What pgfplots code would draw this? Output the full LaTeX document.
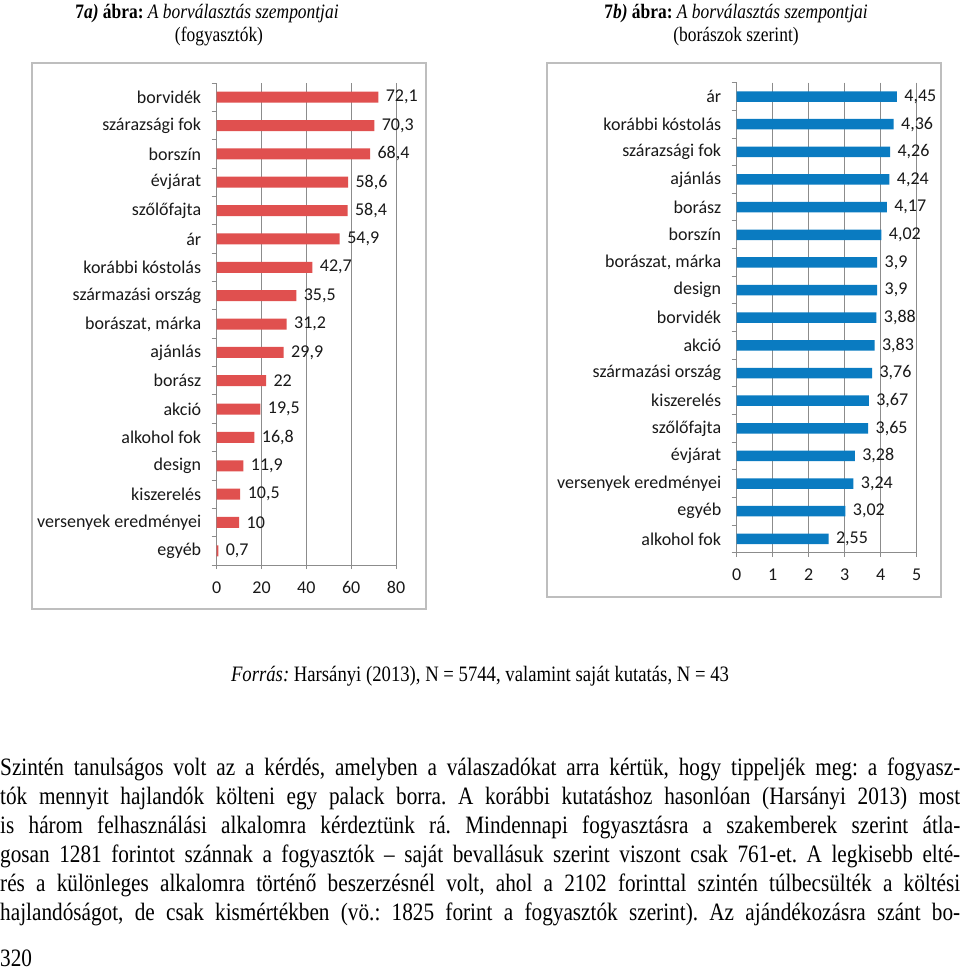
\documentclass[border=0pt]{standalone}
\usepackage{fontspec}
\setmainfont{Liberation Serif}[FakeStretch=0.85]
\newfontfamily\calfont{Carlito}
\usepackage{pgfplots}
\pgfplotsset{compat=1.18}
\definecolor{barred}{HTML}{E0504F}
\definecolor{barblue}{HTML}{0A7BC1}
\definecolor{axgray}{HTML}{8C8C8C}
\definecolor{framegray}{HTML}{BEBEBE}
\newcommand{\chfont}{\calfont\fontsize{18}{20}\selectfont}
\frenchspacing
\pgfplotsset{excelbar/.style={
  xbar, scale only axis, clip=false,
  y dir=reverse, ymin=-0.5, ymax=16.5, ytick={0,...,16},
  minor ytick={-0.5,0.5,...,16.5},
  major y tick style={draw=none},
  axis x line*=bottom, axis y line*=left,
  axis line style={axgray, line width=0.9pt},
  xmajorgrids, grid style={axgray, line width=0.9pt},
  tick align=outside, major tick length=4pt, minor tick length=5pt,
  tick style={axgray, line width=0.9pt},
  ticklabel style={font=\chfont, text=black!90},
  yticklabel style={xshift=-8pt},
  xticklabel style={yshift=-9pt},
  /pgf/number format/use comma,
  /pgf/number format/assume math mode=true,
  nodes near coords,
  nodes near coords style={font=\chfont, text=black!90, xshift=4pt},
}}
\begin{document}
\begin{tikzpicture}
\useasboundingbox (0,0) rectangle (960pt,-971pt);
\fill[white] (0,0) rectangle (960pt,-971pt);
% titles
\begin{scope}[every node/.style={anchor=base, inner sep=0, font=\fontsize{20.5}{22}\selectfont}]
\node at (207pt,-19pt) {\textbf{7\textit{a)} ábra:} \textit{A borválasztás szempontjai}};
\node at (219pt,-42pt) {(fogyasztók)};
\node at (736pt,-19pt) {\textbf{7\textit{b)} ábra:} \textit{A borválasztás szempontjai}};
\node at (736pt,-42pt) {(borászok szerint)};
\end{scope}
% frames
\draw[framegray, line width=1.2pt] (32pt,-63pt) rectangle (426pt,-609pt);
\draw[framegray, line width=1.2pt] (547pt,-63pt) rectangle (941pt,-597pt);
% left chart
\begin{axis}[excelbar, width=179.3pt, height=482pt, at={(306.35pt,-324pt)}, anchor=center,
  xmin=0, xmax=80, xtick={0,20,...,80}, bar width=11pt,
  yticklabels={borvidék,szárazsági fok,borszín,évjárat,szőlőfajta,ár,korábbi kóstolás,származási ország,{borászat, márka},ajánlás,borász,akció,alkohol fok,design,kiszerelés,versenyek eredményei,egyéb}]
\addplot[fill=barred, draw=none] coordinates {
(72.1,0) (70.3,1) (68.4,2) (58.6,3) (58.4,4) (54.9,5) (42.7,6) (35.5,7) (31.2,8)
(29.9,9) (22,10) (19.5,11) (16.8,12) (11.9,13) (10.5,14) (10,15) (0.7,16)};
\end{axis}
% right chart
\begin{axis}[excelbar, width=180pt, height=470pt, at={(826.7pt,-317.7pt)}, anchor=center,
  xmin=0, xmax=5, xtick={0,...,5}, bar width=10.5pt,
  yticklabels={ár,korábbi kóstolás,szárazsági fok,ajánlás,borász,borszín,{borászat, márka},design,borvidék,akció,származási ország,kiszerelés,szőlőfajta,évjárat,versenyek eredményei,egyéb,alkohol fok}]
\addplot[fill=barblue, draw=none] coordinates {
(4.45,0) (4.36,1) (4.26,2) (4.24,3) (4.17,4) (4.02,5) (3.9,6) (3.9,7) (3.88,8)
(3.83,9) (3.76,10) (3.67,11) (3.65,12) (3.28,13) (3.24,14) (3.02,15) (2.55,16)};
\end{axis}
% caption
\node[anchor=base, inner sep=0, font=\fontsize{22}{24}\selectfont] at (480pt,-681pt) {\textit{Forrás:} Harsányi (2013), N = 5744, valamint saját kutatás, N = 43};
% body text
\begin{scope}[every node/.style={anchor=base west, inner sep=0, font=\fontsize{25}{29}\selectfont}]
\node at (0,-775pt) {\makebox[960pt][s]{Szintén tanulságos volt az a kérdés, amelyben a válaszadókat arra kértük, hogy tippeljék meg: a fogyasz-}};
\node at (0,-804pt) {\makebox[960pt][s]{tók mennyit hajlandók költeni egy palack borra. A korábbi kutatáshoz hasonlóan (Harsányi 2013) most}};
\node at (0,-833pt) {\makebox[960pt][s]{is három felhasználási alkalomra kérdeztünk rá. Mindennapi fogyasztásra a szakemberek szerint átla-}};
\node at (0,-862pt) {\makebox[960pt][s]{gosan 1281 forintot szánnak a fogyasztók – saját bevallásuk szerint viszont csak 761-et. A legkisebb elté-}};
\node at (0,-891pt) {\makebox[960pt][s]{rés a különleges alkalomra történő beszerzésnél volt, ahol a 2102 forinttal szintén túlbecsülték a költési}};
\node at (0,-920pt) {\makebox[960pt][s]{hajlandóságot, de csak kismértékben (vö.: 1825 forint a fogyasztók szerint). Az ajándékozásra szánt bo-}};
\node at (0,-966pt) {320};
\end{scope}
\end{tikzpicture}
\end{document}
